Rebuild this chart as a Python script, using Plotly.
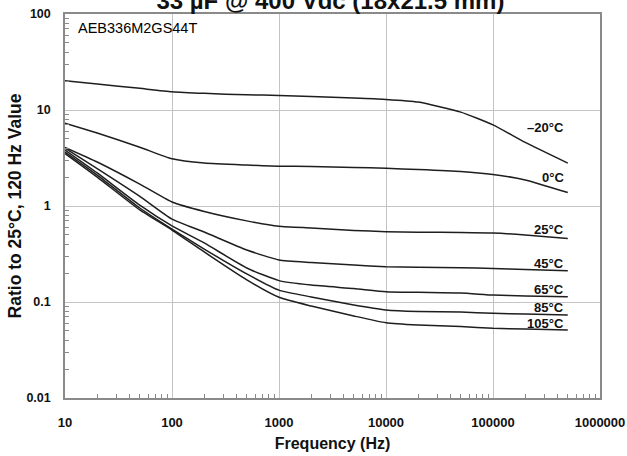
import math
import plotly.graph_objects as go

# ---- data ----
freq_hz = [10, 20, 50, 100, 200, 500, 1000, 2000, 5000, 10000, 20000, 50000, 100000, 200000, 500000]

ratio_m20 = [20.2, 18.7, 16.8, 15.5, 14.9, 14.4, 14.2, 13.8, 13.3, 12.9, 12.1, 9.5, 7.0, 4.6, 2.8]
ratio_0 = [7.3, 5.75, 4.1, 3.1, 2.8, 2.67, 2.6, 2.58, 2.52, 2.47, 2.40, 2.29, 2.13, 1.87, 1.38]
ratio_25 = [4.08, 2.87, 1.69, 1.1, 0.877, 0.70, 0.615, 0.59, 0.556, 0.54, 0.533, 0.53, 0.523, 0.50, 0.46]
ratio_45 = [4.0, 2.45, 1.26, 0.73, 0.536, 0.348, 0.274, 0.258, 0.243, 0.233, 0.23, 0.227, 0.224, 0.218, 0.212]
ratio_65 = [3.83, 2.21, 1.02, 0.62, 0.412, 0.226, 0.167, 0.150, 0.138, 0.128, 0.126, 0.124, 0.118, 0.1155, 0.1135]
ratio_85 = [3.65, 2.10, 0.953, 0.575, 0.356, 0.196, 0.133, 0.113, 0.093, 0.0826, 0.0796, 0.0787, 0.0762, 0.075, 0.0732]
ratio_105 = [3.52, 2.0, 0.91, 0.562, 0.332, 0.17, 0.112, 0.0908, 0.0715, 0.0608, 0.0575, 0.0555, 0.0532, 0.0524, 0.0511]

series_names = ["–20°C", "0°C", "25°C", "45°C", "65°C", "85°C", "105°C"]
series_values = [ratio_m20, ratio_0, ratio_25, ratio_45, ratio_65, ratio_85, ratio_105]
label_y = [6.5, 1.96, 0.575, 0.249, 0.136, 0.0887, 0.0604]
label_x = 480000

x_tick_vals = [10, 100, 1000, 10000, 100000, 1000000]
x_tick_text = ["10", "100", "1000", "10000", "100000", "1000000"]
y_tick_vals = [0.01, 0.1, 1, 10, 100]
y_tick_text = ["0.01", "0.1", "1", "10", "100"]

title_text = "33 µF @ 400 Vdc (18x21.5 mm)"
part_number = "AEB336M2GS44T"

FONT = "Liberation Sans, Arial, sans-serif"
LINE = "#1e1e1e"
GRID = "#c4c4c4"
AXIS = "#8a8a8a"

x_minor = [m * 10 ** k for k in range(1, 6) for m in range(2, 10)]
y_minor = [m * 10.0 ** k for k in range(-2, 2) for m in range(2, 10)]

fig = go.Figure()
for name, vals in zip(series_names, series_values):
    fig.add_trace(go.Scatter(
        x=freq_hz, y=vals, mode="lines", name=name,
        line=dict(color=LINE, width=1.5, shape="spline", smoothing=0.5),
        showlegend=False,
    ))

for name, ly in zip(series_names, label_y):
    fig.add_annotation(
        x=math.log10(label_x), y=math.log10(ly), xref="x", yref="y",
        text="<b>%s</b>" % name, showarrow=False, xanchor="right", yanchor="middle",
        font=dict(family=FONT, size=13, color="#111"),
    )

fig.add_annotation(
    x=0.02, y=0.99, xref="paper", yref="paper", text=part_number, showarrow=False,
    xanchor="left", yanchor="top", font=dict(family=FONT, size=14.5, color="#000"),
)

fig.update_layout(
    width=627, height=456,
    margin=dict(l=65, r=27, t=14, b=58),
    paper_bgcolor="white", plot_bgcolor="white",
    font=dict(family=FONT, color="#111"),
    title=dict(text="<b>%s</b>" % title_text, x=0.527, xanchor="center",
               y=0.998, yref="container", yanchor="middle",
               font=dict(family=FONT, size=24, color="#111")),
)

fig.update_xaxes(
    type="log", range=[1, 6], tickvals=x_tick_vals, ticktext=x_tick_text,
    showgrid=True, gridcolor=GRID, gridwidth=1,
    showline=True, linecolor=AXIS, linewidth=1.5, mirror=True,
    ticks="", ticklabelstandoff=12,
    tickfont=dict(family=FONT, size=13, color="#111", weight="bold"),
    minor=dict(tickvals=x_minor, ticks="inside", ticklen=4, tickcolor=AXIS, showgrid=False),
    title=dict(text="<b>Frequency (Hz)</b>", standoff=8,
               font=dict(family=FONT, size=16, color="#111")),
    automargin=False, zeroline=False,
)
fig.update_yaxes(
    type="log", range=[-2, 2], tickvals=y_tick_vals, ticktext=y_tick_text,
    showgrid=True, gridcolor=GRID, gridwidth=1,
    showline=True, linecolor=AXIS, linewidth=1.5, mirror=True,
    ticks="", ticklabelstandoff=10,
    tickfont=dict(family=FONT, size=12.5, color="#111", weight="bold"),
    minor=dict(tickvals=y_minor, ticks="inside", ticklen=4, tickcolor=AXIS, showgrid=False),
    title=dict(text="<b>Ratio to 25°C, 120 Hz Value</b>", standoff=0,
               font=dict(family=FONT, size=17.5, color="#111")),
    automargin=False, zeroline=False,
)

fig.write_html("out.html", config={"displayModeBar": False},
               post_script="document.body.style.margin='0';")
